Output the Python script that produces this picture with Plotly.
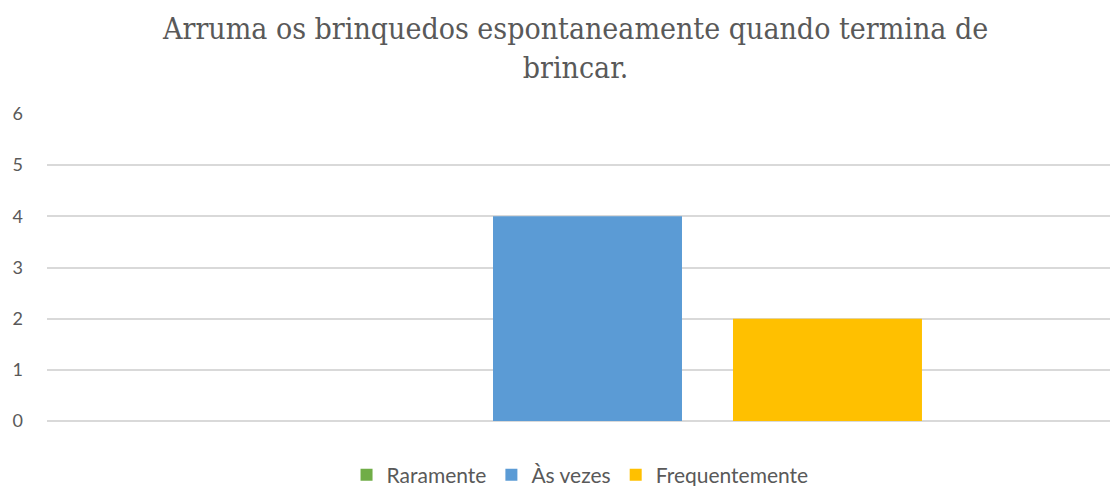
import plotly.graph_objects as go

categories = ["Arruma"]
series_names = ["Raramente", "Às vezes", "Frequentemente"]
series_values = [[0], [4], [2]]
series_colors = ["#70ad47", "#5b9bd5", "#ffc000"]
y_ticks = [0, 1, 2, 3, 4, 5, 6]
title_text = "Arruma os brinquedos espontaneamente quando termina de<br>brincar."

fig = go.Figure()
for name, vals, col in zip(series_names, series_values, series_colors):
    fig.add_trace(go.Bar(x=categories, y=vals, name=name, marker=dict(color=col, line=dict(width=0))))

fig.update_layout(
    width=1110, height=478,
    margin=dict(l=39, r=0, t=106, b=65),
    paper_bgcolor="white", plot_bgcolor="white",
    barmode="group", bargap=0.334, bargroupgap=0.2125,
    showlegend=True,
    legend=dict(orientation="h", x=0.4977, xanchor="center", xref="paper",
                y=0.023, yanchor="middle", yref="container",
                font=dict(family="Lato", size=21, color="#595959"),
                itemwidth=30, traceorder="normal"),
    xaxis=dict(range=[-0.5, -0.5 + 1071 / 1081], showticklabels=False, showgrid=False,
               zeroline=False, showline=False, fixedrange=True),
    yaxis=dict(range=[0, 6], tickvals=y_ticks, showgrid=True, gridcolor="#d9d9d9", gridwidth=1.5,
               zeroline=True, zerolinecolor="#d9d9d9", zerolinewidth=1.5, showline=False,
               tickfont=dict(family="Lato", size=18, color="#595959"),
               ticklabelstandoff=23),
    annotations=[dict(text=title_text, xref="paper", yref="paper", x=0.493, y=1.2166,
                      xanchor="center", yanchor="middle", showarrow=False, align="center",
                      font=dict(family="DejaVu Serif Condensed", size=30, color="#595959"))],
)

fig.write_html("out.html")
